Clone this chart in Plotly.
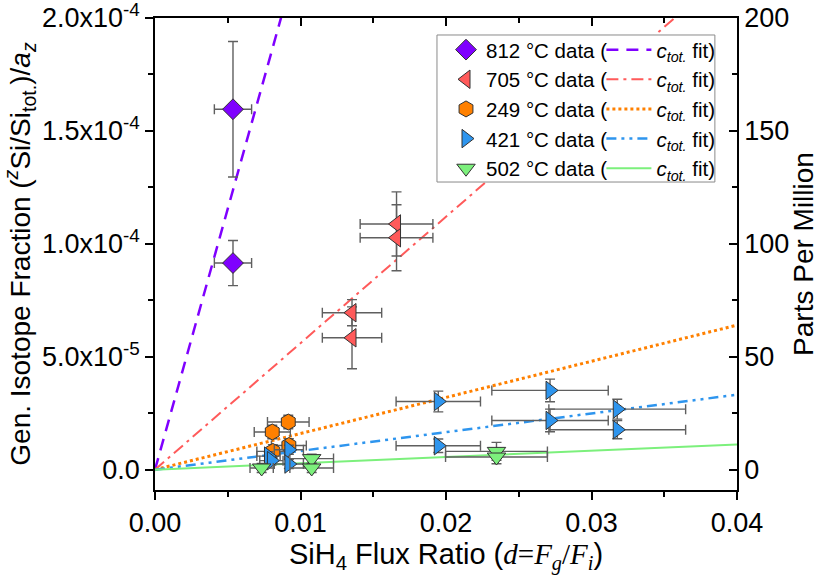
import numpy as np
import plotly.graph_objects as go

# ---- series definitions -------------------------------------------------
series_names = ["812 °C data (", "705 °C data (", "249 °C data (", "421 °C data (", "502 °C data ("]
colors = ["#7F00FF", "#FF5A5A", "#FF8000", "#2E95EE", "#7CF07C"]
symbols = ["diamond", "triangle-left", "hexagon", "triangle-right", "triangle-down"]

# 812 °C
x_812 = [0.00536, 0.00536]
y_812 = [1.596e-4, 0.915e-4]
dx_812 = [0.00128, 0.00128]
dy_812 = [0.30e-4, 0.10e-4]

# 705 °C
x_705 = [0.0166, 0.0166, 0.01354, 0.01354]
y_705 = [1.088e-4, 1.027e-4, 0.695e-4, 0.584e-4]
dx_705 = [0.0025, 0.0025, 0.00204, 0.00204]
dy_705 = [0.142e-4, 0.146e-4, 0.058e-4, 0.137e-4]

# 249 °C
x_249 = [0.00916, 0.00806, 0.0092, 0.0081]
y_249 = [0.211e-4, 0.167e-4, 0.107e-4, 0.081e-4]
dx_249 = [0.00143, 0.00124, 0.0012, 0.0011]
dy_249 = [0.03e-4, 0.03e-4, 0.03e-4, 0.03e-4]

# 421 °C
x_421 = [0.0078, 0.0080, 0.0092, 0.0092, 0.01947, 0.01947, 0.02715, 0.02715, 0.03177, 0.03177]
y_421 = [0.060e-4, 0.040e-4, 0.088e-4, 0.025e-4, 0.302e-4, 0.106e-4, 0.351e-4, 0.218e-4, 0.268e-4, 0.177e-4]
dx_421 = [0.0008, 0.0008, 0.0010, 0.0010, 0.0029, 0.0029, 0.0040, 0.0040, 0.0047, 0.0047]
dy_421 = [0.02e-4, 0.02e-4, 0.02e-4, 0.02e-4, 0.046e-4, 0.03e-4, 0.05e-4, 0.05e-4, 0.044e-4, 0.04e-4]

# 502 °C
x_502 = [0.00733, 0.01077, 0.01077, 0.02347, 0.02347]
y_502 = [0.0075e-4, 0.049e-4, 0.0075e-4, 0.081e-4, 0.056e-4]
dx_502 = [0.0008, 0.0015, 0.0015, 0.0035, 0.0035]
dy_502 = [0.02e-4, 0.02e-4, 0.02e-4, 0.04e-4, 0.03e-4]

# slopes of the c_tot. fits (through the origin)
fit_slopes = [0.0231, 0.0056, 0.0016, 0.00083, 0.00028]
fit_dashes = ["12px,8px", "12px,5px,3px,5px", "3px,3px", "10px,5px,3px,5px,3px,5px", "solid"]
fit_widths = [2.5, 2, 3, 2.5, 2]

x_range = [0.0, 0.04]
y_range = [-0.09e-4, 2.0e-4]

data = [
    (x_812, y_812, dx_812, dy_812),
    (x_705, y_705, dx_705, dy_705),
    (x_249, y_249, dx_249, dy_249),
    (x_421, y_421, dx_421, dy_421),
    (x_502, y_502, dx_502, dy_502),
]

fig = go.Figure()

fit_label = "<i>c</i><sub><i>tot.</i></sub> fit)"
x_fit = np.array(x_range)
for i, slope in enumerate(fit_slopes):
    fig.add_trace(go.Scatter(
        x=x_fit, y=slope * x_fit, mode="lines",
        line=dict(color=colors[i], width=fit_widths[i], dash=fit_dashes[i]),
        name=fit_label, legend="legend2",
        hoverinfo="skip",
    ))

for i, (xs, ys, dxs, dys) in enumerate(data):
    fig.add_trace(go.Scatter(
        x=xs, y=ys, mode="markers",
        marker=dict(symbol=symbols[i], color=colors[i], size=16,
                    line=dict(color="#333333", width=1)),
        error_x=dict(type="data", array=dxs, color="#5f5f5f", thickness=1.4, width=5),
        error_y=dict(type="data", array=dys, color="#5f5f5f", thickness=1.4, width=5),
        name=series_names[i], legend="legend",
    ))

# invisible trace to activate the ppm axis
fig.add_trace(go.Scatter(x=[None], y=[None], yaxis="y2", xaxis="x", showlegend=False))
# invisible trace to activate the top mirror axis
fig.add_trace(go.Scatter(x=[None], y=[None], xaxis="x2", yaxis="y", showlegend=False))

FONT = "Arial, Liberation Sans, sans-serif"
tick_font = dict(family=FONT, size=27, color="black")
x_title_font = dict(family=FONT, size=29, color="black")
y_title_font = dict(family=FONT, size=28, color="black")
ppm_title_font = dict(family=FONT, size=28, color="black")
legend_font = dict(family=FONT, size=20.5, color="black")

y_tickvals = [0, 5e-5, 1e-4, 1.5e-4, 2e-4]
y_ticktext = ["0.0", "5.0x10<sup>-5</sup>", "1.0x10<sup>-4</sup>", "1.5x10<sup>-4</sup>", "2.0x10<sup>-4</sup>"]
ppm_tickvals = [0, 50, 100, 150, 200]

serif = "font-family:'Liberation Serif', 'Times New Roman', serif"
x_title = (f"SiH<sub>4</sub> Flux Ratio (<span style=\"{serif}\"><i>d</i>=<i>F<sub>g</sub></i>/"
           f"<i>F<sub>i</sub></i></span>)")
y_title = "Gen. Isotope Fraction (<sup><i>z</i></sup>Si/Si<sub>tot.</sub>)/<i>a<sub>z</sub></i>"

axis_common = dict(showline=True, linecolor="black", linewidth=1.5, showgrid=False, zeroline=False,
                   tickcolor="black", tickwidth=1.5, ticklen=8, automargin=False,
                   ticklabeloverflow="allow")

fig.update_layout(
    width=819, height=580,
    margin=dict(l=155, r=82, t=18, b=90),
    paper_bgcolor="white", plot_bgcolor="white",
    showlegend=True,
    xaxis=dict(
        range=x_range, tickvals=[0, 0.01, 0.02, 0.03, 0.04], tickformat=".2f",
        ticks="outside",
        minor=dict(dtick=0.005, tick0=0, ticks="outside", ticklen=5, tickwidth=1.5, tickcolor="black"),
        tickfont=tick_font, title=dict(text=x_title, font=x_title_font, standoff=2),
        **axis_common,
    ),
    xaxis2=dict(
        range=x_range, overlaying="x", side="top", matches="x",
        tickvals=[0, 0.01, 0.02, 0.03, 0.04], showticklabels=False,
        ticks="inside",
        minor=dict(dtick=0.005, tick0=0, ticks="inside", ticklen=5, tickwidth=1.5, tickcolor="black"),
        **axis_common,
    ),
    yaxis=dict(
        range=y_range, tickvals=y_tickvals, ticktext=y_ticktext,
        ticks="outside",
        minor=dict(dtick=2.5e-5, tick0=0, ticks="outside", ticklen=5, tickwidth=1.5, tickcolor="black"),
        tickfont=tick_font, title=dict(text=y_title, font=y_title_font, standoff=6),
        **axis_common,
    ),
    yaxis2=dict(
        range=[v * 1e6 for v in y_range], overlaying="y", side="right",
        tickvals=ppm_tickvals,
        ticks="inside",
        minor=dict(dtick=25, tick0=0, ticks="inside", ticklen=5, tickwidth=1.5, tickcolor="black"),
        tickfont=tick_font, title=dict(text="Parts Per Million", font=ppm_title_font, standoff=6),
        **axis_common,
    ),
    legend=dict(
        x=0.500, y=0.975, xanchor="left", yanchor="top",
        bgcolor="rgba(0,0,0,0)", borderwidth=0,
        font=legend_font, traceorder="normal",
    ),
    legend2=dict(
        x=0.767, y=0.975, xanchor="left", yanchor="top",
        bgcolor="rgba(0,0,0,0)", borderwidth=0,
        font=legend_font, traceorder="normal", itemwidth=45,
    ),
    shapes=[dict(
        type="rect", xref="paper", yref="paper",
        x0=0.4845, x1=0.962, y0=0.6525, y1=0.964,
        fillcolor="white", line=dict(color="#8a8a8a", width=1), layer="above",
    )],
)

fig.write_html("out.html")
